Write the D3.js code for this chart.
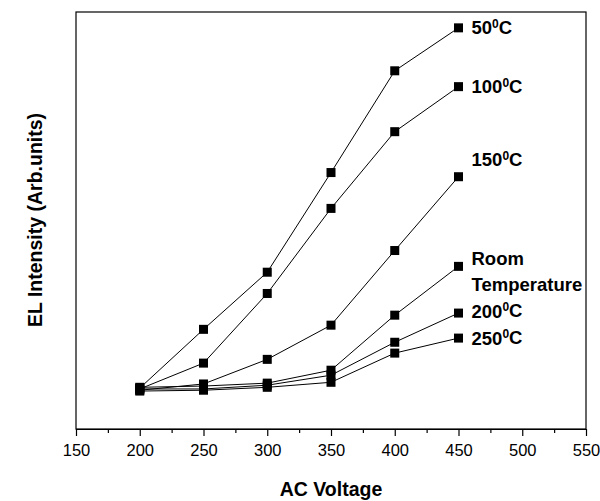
<!DOCTYPE html>
<html>
<head>
<meta charset="utf-8">
<script src="https://cdn.jsdelivr.net/npm/d3@7"></script>
<style>
	body { margin: 0; background: #fff; }
	svg { display: block; font-family: 'Liberation Sans', Arial, sans-serif; }
</style>
</head>
<body>
<div id="chart"></div>
<script>
// ---------------- DATA ----------------
const voltages = [200, 250, 300, 350, 400, 450];
const seriesNames = ['50', '100', '150', 'Room Temperature', '200', '250'];

const vals50 = [9.8, 23.9, 37.6, 61.5, 85.9, 96.2];
const vals100 = [9.6, 15.8, 32.5, 52.9, 71.3, 82.1];
const vals150 = [9.3, 10.8, 16.7, 24.9, 42.8, 60.5];
const valsRoom = [10.0, 10.3, 11.0, 14.1, 27.3, 39.0];
const vals200 = [9.6, 9.6, 10.5, 12.9, 20.8, 27.8];
const vals250 = [9.1, 9.3, 10.0, 11.2, 18.2, 21.8];

const majorTicks = [150, 200, 250, 300, 350, 400, 450, 500, 550];
const minorTicks = [175, 225, 275, 325, 375, 425, 475, 525];

const allValues = [vals50, vals100, vals150, valsRoom, vals200, vals250];

// label vertical nudges (px) relative to the last marker
const labelDy = [0, 0, -17, -8, -2, 0];

// ---------------- CHART ----------------
const width = 600, height = 501;
const margin = { top: 12, right: 14, bottom: 72, left: 76 };

const svg = d3.select('#chart').append('svg').attr('width', width).attr('height', height);

const x = d3.scaleLinear().domain([150, 550]).range([margin.left, width - margin.right]);
const y = d3.scaleLinear().domain([0, 100]).range([height - margin.bottom, margin.top]);

// frame
svg.append('rect')
	.attr('x', margin.left)
	.attr('y', margin.top)
	.attr('width', width - margin.left - margin.right)
	.attr('height', height - margin.top - margin.bottom)
	.attr('fill', 'none')
	.attr('stroke', '#000')
	.attr('stroke-width', 1.2);

// x axis (major + minor)
const xAxis = svg.append('g')
	.attr('transform', `translate(0,${height - margin.bottom})`)
	.call(d3.axisBottom(x).tickValues(majorTicks).tickFormat(d3.format('d')).tickSize(7).tickSizeOuter(0).tickPadding(8));
xAxis.selectAll('text').attr('font-size', 16.5).attr('fill', '#000').attr('font-family', "'Liberation Sans', Arial, sans-serif");
xAxis.selectAll('line').attr('stroke-width', 1.2);
xAxis.select('.domain').attr('stroke-width', 1.2);

svg.append('g')
	.attr('transform', `translate(0,${height - margin.bottom})`)
	.call(d3.axisBottom(x).tickValues(minorTicks).tickFormat('').tickSize(4).tickSizeOuter(0))
	.call((g) => g.select('.domain').remove())
	.selectAll('line').attr('stroke-width', 1.2);

// axis titles
svg.append('text')
	.attr('x', (margin.left + width - margin.right) / 2)
	.attr('y', 496)
	.attr('text-anchor', 'middle')
	.attr('font-size', 19.5)
	.attr('font-weight', 'bold')
	.text('AC Voltage');

svg.append('text')
	.attr('transform', `translate(42,220) rotate(-90)`)
	.attr('text-anchor', 'middle')
	.attr('font-size', 19.5)
	.attr('font-weight', 'bold')
	.text('EL Intensity (Arb.units)');

// lines + markers
const line = d3.line().x((d, i) => x(voltages[i])).y((d) => y(d));

const series = svg.append('g').selectAll('g')
	.data(allValues)
	.join('g');

series.append('path')
	.attr('d', (d) => line(d))
	.attr('fill', 'none')
	.attr('stroke', '#000')
	.attr('stroke-width', 1);

series.selectAll('rect')
	.data((d) => d)
	.join('rect')
	.attr('x', (d, i) => x(voltages[i]) - 4.5)
	.attr('y', (d) => y(d) - 4.5)
	.attr('width', 9)
	.attr('height', 9)
	.attr('fill', '#000');

// series labels
const labels = svg.append('g')
	.attr('font-size', 18.5)
	.attr('font-weight', 'bold');

allValues.forEach((vals, k) => {
	const lx = x(voltages[voltages.length - 1]) + 13;
	const ly = y(vals[vals.length - 1]) + labelDy[k];
	const name = seriesNames[k];
	if (name === 'Room Temperature') {
		const t = labels.append('text').attr('x', lx).attr('y', ly).attr('dy', '0.35em');
		t.append('tspan').attr('x', lx).text('Room');
		t.append('tspan').attr('x', lx).attr('dy', 26).text('Temperature');
	} else {
		const t = labels.append('text').attr('x', lx).attr('y', ly).attr('dy', '0.35em');
		t.append('tspan').text(name);
		t.append('tspan').attr('font-size', 12).attr('dy', '-0.55em').text('0');
		t.append('tspan').attr('dy', '0.35em').text('C');
	}
});
</script>
</body>
</html>
